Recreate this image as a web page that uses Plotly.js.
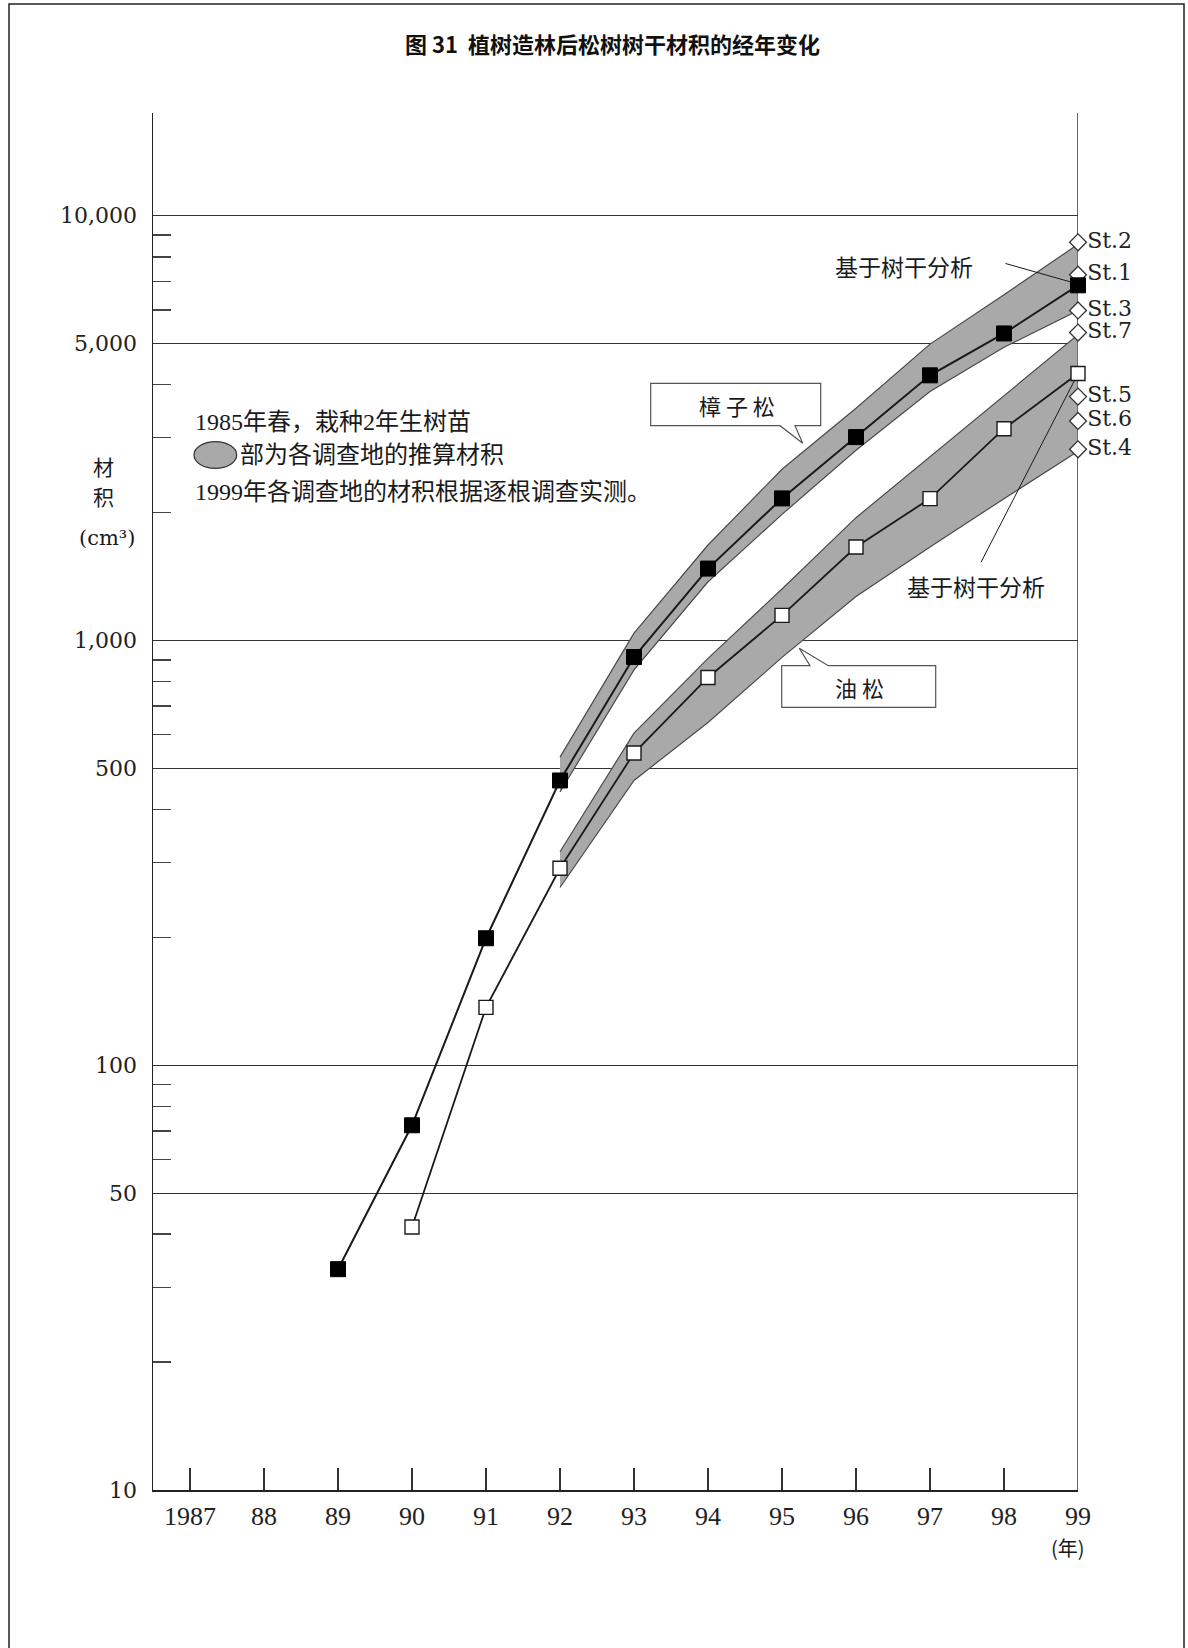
<!DOCTYPE html>
<html>
<head>
<meta charset="utf-8">
<script src="https://cdn.plot.ly/plotly-3.0.1.min.js"></script>
<style>
html,body{margin:0;padding:0;background:#fff;}
#chart{width:1188px;height:1648px;}
</style>
</head>
<body>
<div id="chart"></div>
<script>
// ---------- data ----------
const years = [1987, 1988, 1989, 1990, 1991, 1992, 1993, 1994, 1995, 1996, 1997, 1998, 1999];
const yearLabels = ['1987', '88', '89', '90', '91', '92', '93', '94', '95', '96', '97', '98', '99'];

const zhangYears = [1989, 1990, 1991, 1992, 1993, 1994, 1995, 1996, 1997, 1998, 1999];
const zhangValues = [33.1, 72.2, 199, 468, 914, 1476, 2159, 3010, 4207, 5279, 6852];

const youYears = [1990, 1991, 1992, 1993, 1994, 1995, 1996, 1997, 1998, 1999];
const youValues = [41.6, 136.8, 290.8, 543, 818, 1145, 1659, 2157, 3150, 4248];

const bandYears = [1992, 1993, 1994, 1995, 1996, 1997, 1998, 1999];
const zhangUpper = [531, 1040, 1677, 2528, 3519, 4983, 6512, 8559];
const zhangLower = [440, 852, 1374, 1980, 2802, 3855, 4897, 5979];
const youUpper = [318, 605, 907, 1321, 1945, 2707, 3768, 5243];
const youLower = [262, 468, 641, 912, 1269, 1659, 2156, 2786];

const stationLabels = ['St.2', 'St.1', 'St.3', 'St.7', 'St.5', 'St.6', 'St.4'];
const stationValues = [8653, 7259, 5979, 5305, 3749, 3286, 2818];

const yTickVals = [10, 50, 100, 500, 1000, 5000, 10000];
const yTickText = ['10', '50', '100', '500', '1,000', '5,000', '10,000'];
const yMinorVals = [20, 30, 40, 60, 70, 80, 90, 200, 300, 400, 600, 700, 800, 900,
                    2000, 3000, 4000, 6000, 7000, 8000, 9000];

// leader lines for "基于树干分析"
const leaderUpperX = [1998.02, 1999];
const leaderUpperY = [7714, 6900];
const leaderLowerX = [1997.69, 1999];
const leaderLowerY = [1528, 4248];

// ---------- layout helpers ----------
const W = 1188, H = 1648;
const M = {l: 153, r: 110, t: 113, b: 158};
const PX = px => (px - M.l) / (W - M.l - M.r);
const PY = py => (H - M.b - py) / (H - M.t - M.b);

const serif = 'DejaVu Serif, Noto Sans CJK SC, serif';
const serif2 = 'Liberation Serif, Noto Sans CJK SC, serif';
const cjk = 'Noto Sans CJK SC, sans-serif';
const ink = '#1a1a1a';
const bandFill = '#a9a9a9';
const bandLine = '#4a4a4a';

function band(upper, lower) {
  return {
    x: bandYears.concat(bandYears.slice().reverse()),
    y: upper.concat(lower.slice().reverse()),
    type: 'scatter', mode: 'lines', fill: 'toself',
    fillcolor: bandFill, line: {color: bandLine, width: 1.2},
    hoverinfo: 'skip', showlegend: false
  };
}

const traces = [
  band(zhangUpper, zhangLower),
  band(youUpper, youLower),
  {x: leaderUpperX, y: leaderUpperY, type: 'scatter', mode: 'lines',
   line: {color: ink, width: 1}, showlegend: false, cliponaxis: false},
  {x: leaderLowerX, y: leaderLowerY, type: 'scatter', mode: 'lines',
   line: {color: ink, width: 1}, showlegend: false, cliponaxis: false},
  {x: stationLabels.map(() => 1999), y: stationValues, text: stationLabels,
   type: 'scatter', mode: 'markers+text', textposition: 'middle right',
   textfont: {family: serif, size: 22, color: '#222'},
   marker: {symbol: 'diamond', size: 13, color: '#fff', line: {color: '#333', width: 1.3}},
   showlegend: false, cliponaxis: false},
  {x: youYears, y: youValues, type: 'scatter', mode: 'lines+markers',
   line: {color: ink, width: 1.8},
   marker: {symbol: 'square', size: 14, color: '#fff', line: {color: ink, width: 1.4}},
   showlegend: false, cliponaxis: false},
  {x: zhangYears, y: zhangValues, type: 'scatter', mode: 'lines+markers',
   line: {color: ink, width: 2},
   marker: {symbol: 'square', size: 15, color: '#000', line: {color: '#000', width: 1}},
   showlegend: false, cliponaxis: false}
];

function path(pts) {
  return 'M ' + pts.map(p => PX(p[0]).toFixed(5) + ',' + PY(p[1]).toFixed(5)).join(' L ') + ' Z';
}

const shapes = [
  // outer frame
  {type: 'rect', xref: 'paper', yref: 'paper', x0: PX(9), x1: PX(1184), y0: PY(1655), y1: PY(4),
   line: {color: '#222', width: 1.5}, fillcolor: 'rgba(0,0,0,0)', layer: 'below'},
  // right border line at 1999
  {type: 'line', xref: 'x', yref: 'paper', x0: 1999, x1: 1999, y0: 0, y1: 1,
   line: {color: '#333', width: 1.5}, layer: 'below'},
  // callout 樟子松
  {type: 'path', xref: 'paper', yref: 'paper',
   path: path([[650.7, 383.3], [820.7, 383.3], [820.7, 425.7], [795, 425.7], [802.7, 443.3], [780, 425.7], [650.7, 425.7]]),
   fillcolor: '#fff', line: {color: '#555', width: 1.2}, layer: 'above'},
  // callout 油松
  {type: 'path', xref: 'paper', yref: 'paper',
   path: path([[781.7, 665.7], [810, 665.7], [799.3, 648.3], [828.3, 665.7], [935.7, 665.7], [935.7, 707.3], [781.7, 707.3]]),
   fillcolor: '#fff', line: {color: '#555', width: 1.2}, layer: 'above'},
  // legend ellipse
  {type: 'circle', xref: 'paper', yref: 'paper', x0: PX(194), x1: PX(236.7), y0: PY(468.3), y1: PY(441.7),
   fillcolor: bandFill, line: {color: '#333', width: 1.2}, layer: 'above'}
];

function note(text, px, py, opts) {
  return Object.assign({
    text: text, xref: 'paper', yref: 'paper', x: PX(px), y: PY(py),
    xanchor: 'center', yanchor: 'middle', showarrow: false,
    font: {family: serif2, size: 24, color: ink}
  }, opts || {});
}

const annotations = [
  note('1985年春，栽种2年生树苗', 193, 421.7, {xanchor: 'left'}),
  note('部为各调查地的推算材积', 238, 455, {xanchor: 'left'}),
  note('1999年各调查地的材积根据逐根调查实测。', 193, 491.7, {xanchor: 'left'}),
  note('樟 子 松', 737, 405, {font: {family: cjk, size: 22, color: ink}}),
  note('油 松', 859, 687, {font: {family: cjk, size: 22, color: ink}}),
  note('基于树干分析', 904, 266, {font: {family: cjk, size: 23, color: ink}}),
  note('基于树干分析', 975.6, 585.6, {font: {family: cjk, size: 23, color: ink}}),
  note('材', 103.3, 466, {font: {family: cjk, size: 21, color: ink}}),
  note('积', 103.3, 496, {font: {family: cjk, size: 21, color: ink}}),
  note('(cm³)', 107, 538, {font: {family: serif, size: 21, color: ink}}),
  note('(年)', 1068, 1548, {font: {family: cjk, size: 20, color: ink}})
];

const layout = {
  width: W, height: H,
  margin: M,
  paper_bgcolor: '#fff', plot_bgcolor: '#fff',
  showlegend: false,
  title: {
    text: '图 31\u00a0\u00a0植树造林后松树树干材积的经年变化',
    xref: 'paper', x: PX(612.5), xanchor: 'center',
    yref: 'container', y: 1 - 45 / H, yanchor: 'middle',
    font: {family: cjk, size: 22, color: '#111', weight: 'bold'}
  },
  xaxis: {
    range: [1986.5, 1999],
    tickmode: 'array', tickvals: years, ticktext: yearLabels,
    ticks: 'inside', ticklen: 22, tickwidth: 1.2, tickcolor: '#333',
    showline: true, linecolor: '#222', linewidth: 2,
    showgrid: false, zeroline: false,
    tickfont: {family: serif2, size: 26, color: '#222'},
    ticklabelstandoff: 2
  },
  yaxis: {
    type: 'log', range: [1, 1 + 1377 / 424.8],
    tickmode: 'array', tickvals: yTickVals, ticktext: yTickText,
    ticks: '', showline: true, linecolor: '#222', linewidth: 1.5,
    showgrid: true, gridcolor: '#333', gridwidth: 1, zeroline: false,
    tickfont: {family: serif, size: 22, color: '#222'},
    ticklabelstandoff: 10,
    minor: {tickmode: 'array', tickvals: yMinorVals, ticks: 'inside', ticklen: 18,
            tickwidth: 1.5, tickcolor: '#444', showgrid: false}
  },
  shapes: shapes,
  annotations: annotations
};

Plotly.newPlot('chart', traces, layout, {displayModeBar: false, staticPlot: true});
</script>
</body>
</html>
